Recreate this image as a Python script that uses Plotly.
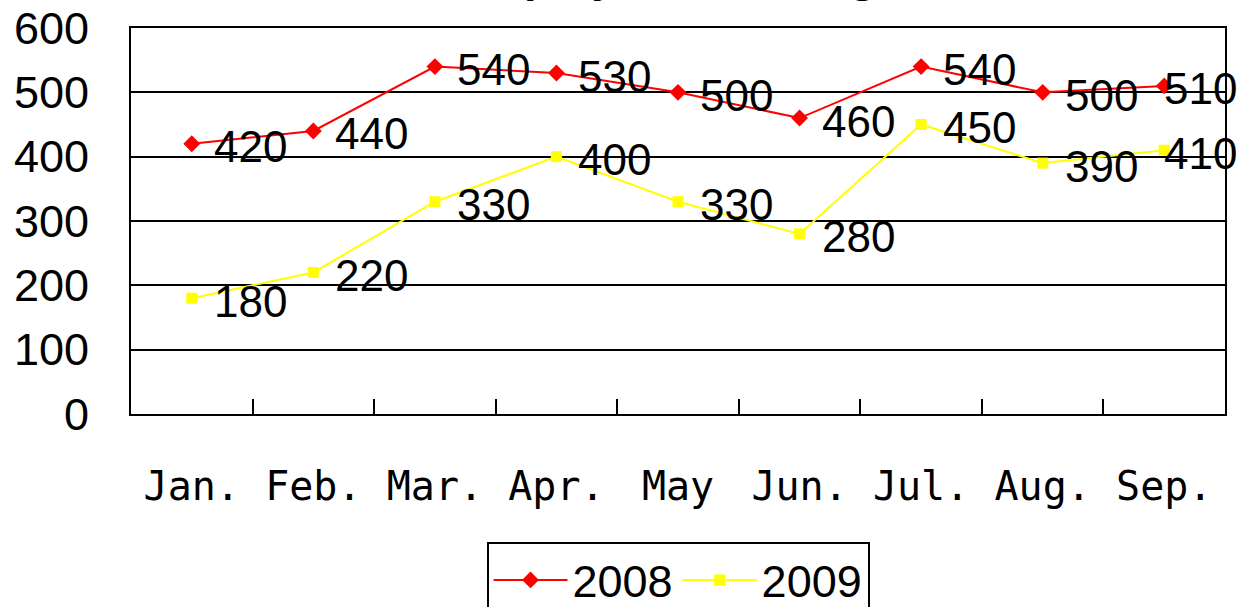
import plotly.graph_objects as go

months = ["Jan.", "Feb.", "Mar.", "Apr.", "May", "Jun.", "Jul.", "Aug.", "Sep."]
values_2008 = [420, 440, 540, 530, 500, 460, 540, 500, 510]
values_2009 = [180, 220, 330, 400, 330, 280, 450, 390, 410]
title_text = "Employment Change"

fig = go.Figure()
fig.add_trace(go.Scatter(
    x=months, y=values_2008, name="2008", mode="lines+markers",
    line=dict(color="#FF0000", width=2),
    marker=dict(symbol="diamond", size=13, color="#FF0000"),
))
fig.add_trace(go.Scatter(
    x=months, y=values_2009, name="2009", mode="lines+markers",
    line=dict(color="#FFFF00", width=2),
    marker=dict(symbol="square", size=11, color="#FFFF00"),
))

annotations = []
last = len(months) - 1
for series in (values_2008, values_2009):
    for i, (m, v) in enumerate(zip(months, series)):
        annotations.append(dict(
            x=m, y=v, xref="x", yref="y", text=str(v), showarrow=False,
            xanchor="left", yanchor="middle",
            xshift=20 if i < last else -2, yshift=-3,
            font=dict(family="Liberation Sans", size=44, color="black"),
        ))

annotations.append(dict(
    x=0.5, y=1, xref="paper", yref="paper", text="<b>" + title_text + "</b>",
    showarrow=False, xanchor="center", yanchor="bottom", yshift=24,
    font=dict(family="Liberation Sans", size=45, color="black"),
))

fig.update_layout(
    width=1238, height=607,
    margin=dict(l=131, r=13, t=28, b=193, autoexpand=False),
    paper_bgcolor="white", plot_bgcolor="white",
    showlegend=True,
    legend=dict(
        orientation="h", x=0.5, xanchor="center", y=-0.332, yanchor="top",
        bordercolor="black", borderwidth=2, bgcolor="white",
        itemwidth=74,
        font=dict(family="Liberation Sans", size=45, color="black"),
    ),
    annotations=annotations,
)
fig.update_xaxes(
    type="category", range=[-0.5, 8.5], tickson="boundaries", ticks="inside",
    ticklen=15, tickwidth=2, tickcolor="black",
    showline=True, linecolor="black", linewidth=2, mirror=True,
    showgrid=False, ticklabelstandoff=36, automargin=False,
    tickfont=dict(family="DejaVu Sans Mono", size=40, color="black"),
)
fig.update_yaxes(
    range=[0, 600], dtick=100, ticks="inside", ticklen=15, tickwidth=2,
    tickcolor="black",
    showline=True, linecolor="black", linewidth=2, mirror=True,
    showgrid=True, gridcolor="black", gridwidth=2, zeroline=False,
    ticklabelstandoff=31, automargin=False,
    tickfont=dict(family="Liberation Sans", size=45, color="black"),
)

fig.write_html(
    "out.html",
    config={"displayModeBar": False},
    post_script="document.body.style.margin='0';document.body.style.overflow='hidden';",
)
